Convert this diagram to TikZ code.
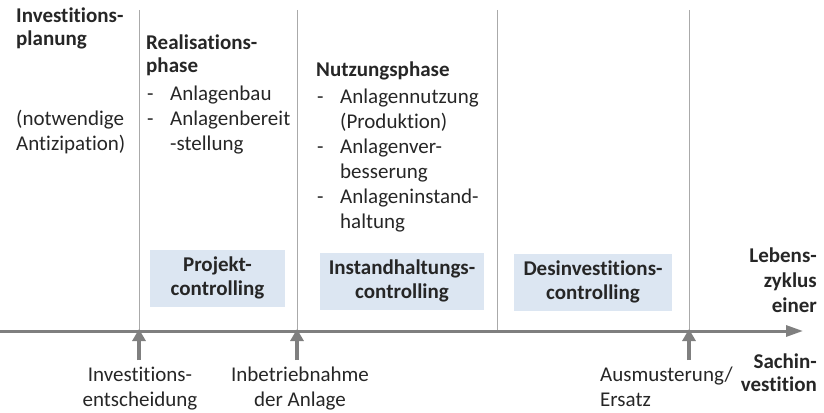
\documentclass[tikz,border=0pt]{standalone}
\usepackage{fontspec}
\setmainfont{Carlito}[Ligatures=NoCommon]
\usetikzlibrary{arrows.meta}
\definecolor{axisgray}{RGB}{127,127,127}
\definecolor{phasegray}{RGB}{170,170,170}
\definecolor{ctrlblue}{RGB}{220,230,242}
\definecolor{textdark}{RGB}{38,38,38}

\begin{document}
\begin{tikzpicture}[x=1pt, y=-1pt,
    txt/.style={inner sep=0pt, text=textdark, align=left, font=\fontsize{21}{25}\selectfont},
    head/.style={txt, font=\fontsize{21}{23}\selectfont\bfseries},
    ctrl/.style={fill=ctrlblue, minimum width=#1, minimum height=57, inner sep=0pt,
        align=center, text=textdark, font=\fontsize{21}{24}\selectfont\bfseries},
    phase/.style={phasegray, line width=0.8pt},
    event/.style={axisgray, line width=3.5pt, -{Triangle[length=12pt, width=13pt]}}]

    \useasboundingbox (0,0) rectangle (824,412);

    % 1. Phase boundaries and the time axis
    \coordinate (axstart) at (0,331);
    \coordinate (axend) at (803,331);
    \foreach \x/\n in {139/1, 297/2, 497/3, 689/4} {
        \coordinate (top\n) at (\x,10);
        \coordinate (ax\n) at (\x,331);
        \coordinate (ev\n) at (\x,360);
        \draw[phase] (top\n) -- (ax\n);
    }
    \draw[axisgray, line width=3pt, -{Triangle[length=17pt, width=11pt]}] (axstart) -- (axend);

    % 2. Events below the axis
    \foreach \n in {1, 2, 4} {
        \draw[event] (ev\n) -- ([yshift=2pt]ax\n);
    }

    % 3. Phases (base = baseline of the last line)
    \node[head, anchor=base west] (invplan) at (16,46) {Investitions-\\planung};
    \node[txt, anchor=base west] (antiz) at (16,150) {(notwendige\\Antizipation)};

    \node[head, anchor=base west] (realhead) at (146,72) {Realisations-\\phase};
    \node[txt, anchor=base west] (reallist) at (147,150)
        {\makebox[23pt][l]{-}Anlagenbau\\\makebox[23pt][l]{-}Anlagenbereit\\\hspace*{23pt}-stellung};

    \node[head, anchor=base west] (nutzhead) at (316,77) {Nutzungsphase};
    \node[txt, anchor=base west] (nutzlist) at (317,228)
        {\makebox[23pt][l]{-}Anlagennutzung\\\hspace*{23pt}(Produktion)\\
         \makebox[23pt][l]{-}Anlagenver-\\\hspace*{23pt}besserung\\
         \makebox[23pt][l]{-}Anlageninstand-\\\hspace*{23pt}haltung};

    % 4. Controlling boxes
    \node[ctrl=135] (projctrl) at (217.5,278) {Projekt-\\controlling};
    \node[ctrl=164] (instctrl) at (402,281) {Instandhaltungs-\\controlling};
    \node[ctrl=158] (desctrl) at (593,282) {Desinvestitions-\\controlling};

    % 5. Axis label
    \node[head, align=right, anchor=base east, font=\fontsize{21}{25}\selectfont\bfseries]
        (lebens) at (817,312) {Lebens-\\zyklus\\einer};
    \node[head, align=right, anchor=base east] (sachinv) at (817,391) {Sachin-\\vestition};

    % 6. Event labels
    \node[txt, align=center, anchor=base] (investent) at (140,406) {Investitions-\\entscheidung};
    \node[txt, align=center, anchor=base] (inbetrieb) at (300,406) {Inbetriebnahme\\der Anlage};
    \node[txt, anchor=base west] (ausmust) at (600,406) {Ausmusterung/\\Ersatz};

\end{tikzpicture}
\end{document}
